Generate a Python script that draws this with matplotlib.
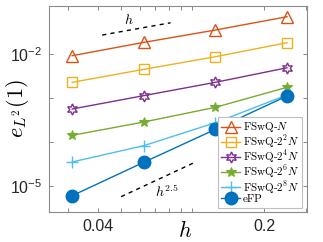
import numpy as np
import matplotlib
matplotlib.use('Agg')
import matplotlib.pyplot as plt
from matplotlib.ticker import NullFormatter, FixedLocator

plt.rcParams['font.family'] = ['Liberation Sans', 'DejaVu Sans']
plt.rcParams['mathtext.fontset'] = 'cm'

# mesh sizes
h = [1/32, 1/16, 1/8, 1/4]

# L2 errors at t=1
err_N = [9.3e-3, 1.87e-2, 3.57e-2, 7.16e-2]
err_2N = [2.31e-3, 4.56e-3, 8.82e-3, 1.84e-2]
err_4N = [5.71e-4, 1.15e-3, 2.31e-3, 4.95e-3]
err_6N = [1.44e-4, 2.89e-4, 6.24e-4, 1.78e-3]
err_8N = [3.57e-5, 8.37e-5, 2.79e-4, 1.19e-3]
err_efp = [6.11e-6, 3.51e-5, 1.97e-4, 1.13e-3]

labels = [r'FSwQ-$N$', r'FSwQ-$2^2N$', r'FSwQ-$2^4N$',
          r'FSwQ-$2^6N$', r'FSwQ-$2^8N$', 'eFP']

# reference slopes
ref1_x = [0.0418, 0.081]
ref1_y = [0.0275, 0.0522]
ref2_x = [0.0502, 0.1005]
ref2_y = [5.8e-6, 3.33e-5]

fig = plt.figure(figsize=(3.23, 2.42), dpi=100)
ax = fig.add_axes([0.152, 0.124, 0.797, 0.851])

ax.plot(h, err_N, '-^', color='#D95319', lw=1, ms=8.5, mfc='none', mew=1, label=labels[0])
ax.plot(h, err_2N, '-s', color='#EDB120', lw=1, ms=7, mfc='none', mew=1, label=labels[1])
ax.plot(h, err_4N, '-', marker=(6, 1, 0), color='#7E2F8E', lw=1, ms=8, mfc='none', mew=1, label=labels[2])
ax.plot(h, err_6N, '-*', color='#77AC30', lw=1, ms=7.5, mew=0.8, label=labels[3])
ax.plot(h, err_8N, '-+', color='#4DBEEE', lw=1, ms=8, mew=1, label=labels[4])
ax.plot(h, err_efp, '-o', color='#0072BD', lw=1, ms=9, label=labels[5])

ax.plot(ref1_x, ref1_y, 'k--', lw=1, dashes=(3, 3))
ax.plot(ref2_x, ref2_y, 'k--', lw=1, dashes=(3, 3))
ax.text(0.0542, 0.0602, r'$h$', fontsize=10, ha='center', va='center')
ax.text(0.078, 7.6e-6, r'$h^{2.5}$', fontsize=10, ha='center', va='center')

ax.set_xscale('log')
ax.set_yscale('log')
ax.set_xlim(0.025, 0.302)
ax.set_ylim(2.6e-6, 0.1253)

ax.xaxis.set_major_locator(FixedLocator([0.04, 0.2]))
ax.set_xticklabels(['0.04', '0.2'])
ax.xaxis.set_minor_locator(FixedLocator([0.03, 0.05, 0.06, 0.07, 0.08, 0.09, 0.1, 0.3]))
ax.xaxis.set_minor_formatter(NullFormatter())
ax.yaxis.set_major_locator(FixedLocator([1e-5, 1e-2]))
ax.set_yticklabels([r'$\mathregular{10^{-5}}$', r'$\mathregular{10^{-2}}$'])
ax.yaxis.set_minor_locator(FixedLocator([1e-4, 1e-3]))
ax.yaxis.set_minor_formatter(NullFormatter())

ax.tick_params(which='both', direction='in', top=True, right=True,
               color='0.45', labelsize=11.5, labelcolor='0.15', pad=5)
ax.tick_params(which='both', length=3, width=0.6)
for s in ax.spines.values():
    s.set_color('0.55')
    s.set_linewidth(0.8)

ax.set_xlabel(r'$h$', fontsize=16)
ax.xaxis.set_label_coords(0.528, -0.097)
ax.xaxis.label.set_va('center')
ax.set_ylabel(r'$e_{L^2}(1)$', fontsize=16)
ax.yaxis.set_label_coords(-0.124, 0.5)
ax.yaxis.label.set_va('center')

leg = ax.legend(loc='lower right', prop={'family': 'cmr10', 'size': 8},
                fancybox=False, framealpha=1, edgecolor='0.75',
                borderpad=0.3, labelspacing=-0.12, handlelength=1.7,
                handletextpad=0.2, borderaxespad=0.4)
leg.get_frame().set_linewidth(0.8)

fig.savefig('out.png', dpi=100)
